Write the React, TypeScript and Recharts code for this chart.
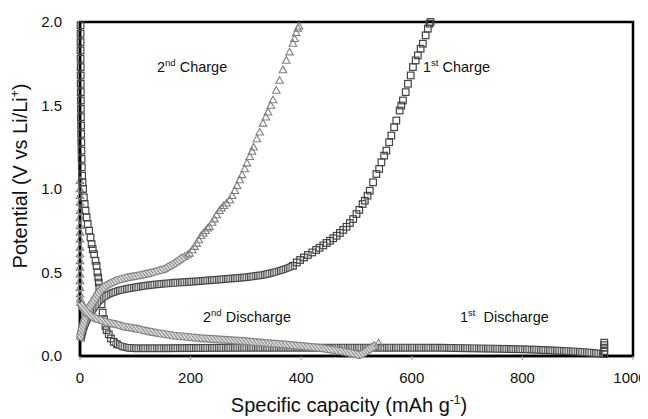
import React from 'react';
import { ScatterChart, Scatter, XAxis, YAxis, ReferenceArea } from 'recharts';

type P = [number, number];

const xTicks = [0, 200, 400, 600, 800, 1000];
const yTicks = [0, 0.5, 1.0, 1.5, 2.0];

// 1st discharge (squares)
const firstDischargeMarkers: P[] = [
  [1, 1.98], [1, 1.93], [1, 1.88], [1, 1.83], [1.1, 1.78], [1.2, 1.73], [1.2, 1.68], [1.3, 1.63],
  [1.4, 1.58], [1.5, 1.53], [1.6, 1.48], [1.7, 1.43], [1.9, 1.38], [2.1, 1.33], [2.3, 1.28],
  [2.6, 1.23], [2.9, 1.18], [3.3, 1.13], [3.8, 1.08], [4.5, 1.04], [5.5, 1.0], [7, 0.95],
  [8.5, 0.91], [10, 0.87], [12, 0.83], [14, 0.79], [16.5, 0.75], [19, 0.71], [21, 0.67],
  [23, 0.64], [25.5, 0.61], [28, 0.57], [30, 0.54], [31.5, 0.5], [33, 0.47], [34, 0.44],
  [35, 0.41], [37, 0.36], [39, 0.31], [41, 0.26], [43.5, 0.22], [46, 0.18], [48, 0.155],
  [52, 0.13], [56, 0.105], [61, 0.085], [67, 0.07],
];
const firstDischargeBand: P[] = [
  [61, 0.085], [67, 0.07], [75, 0.058], [85, 0.05], [100, 0.046], [150, 0.046], [200, 0.048],
  [300, 0.05], [400, 0.05], [500, 0.05], [600, 0.05], [650, 0.049], [700, 0.047], [750, 0.044],
  [800, 0.04], [850, 0.034], [900, 0.026], [930, 0.018], [946, 0.012],
];
const firstDischargeTail: P[] = [
  [948, 0.012], [948, 0.03], [948, 0.05], [948, 0.065], [948, 0.08],
];

// 1st charge (squares)
const firstChargeBand: P[] = [
  [1, 0.09], [3, 0.12], [5, 0.15], [8, 0.18], [12, 0.21], [17, 0.24], [22, 0.27], [28, 0.3],
  [35, 0.33], [44, 0.355], [55, 0.375], [68, 0.39], [80, 0.4], [100, 0.412], [120, 0.422],
  [140, 0.43], [170, 0.438], [200, 0.445], [258, 0.46], [300, 0.472], [330, 0.485], [350, 0.5],
  [370, 0.52], [385, 0.54],
];
const firstChargeMarkers: P[] = [
  [385, 0.54], [392, 0.56], [398, 0.575], [405, 0.59], [412, 0.605], [420, 0.62], [427, 0.635],
  [433, 0.648], [440, 0.662], [446, 0.677], [452, 0.69], [458, 0.705], [464, 0.72], [470, 0.737],
  [476, 0.755], [482, 0.774], [488, 0.796], [494, 0.82], [500, 0.85], [505, 0.875], [511, 0.91],
  [515, 0.93], [520, 0.96], [524, 0.99], [530, 1.04], [536, 1.09], [541, 1.12], [545, 1.16],
  [550, 1.2], [554, 1.23], [559, 1.28], [563, 1.32], [568, 1.37], [572, 1.41], [578, 1.47],
  [581, 1.5], [584, 1.53], [589, 1.58], [593, 1.63], [598, 1.68], [602, 1.73], [607, 1.77],
  [611, 1.8], [616, 1.84], [620, 1.87], [625, 1.92], [629, 1.96], [632, 1.99], [634, 2.0],
];

// 2nd charge (triangles)
const secondChargeBand: P[] = [
  [0, 0.1], [1, 0.13], [3, 0.16], [6, 0.19], [8, 0.215], [12, 0.25], [17, 0.29], [22, 0.315],
  [26, 0.335], [32, 0.37], [38, 0.395], [44, 0.415], [55, 0.435], [68, 0.455], [85, 0.47],
  [111, 0.485], [130, 0.5], [153, 0.52], [172, 0.555], [189, 0.595],
];
const secondChargeMarkers: P[] = [
  [189, 0.595], [194, 0.605], [198, 0.615], [203, 0.635], [207, 0.655], [211, 0.675], [215, 0.695],
  [219, 0.72], [223, 0.735], [227, 0.75], [231, 0.765], [234, 0.774], [239, 0.8], [243, 0.82],
  [247, 0.845], [252, 0.87], [256, 0.885], [260, 0.9], [265, 0.915], [271, 0.934], [275, 0.96],
  [280, 0.99], [284, 1.02], [289, 1.054], [293, 1.085], [298, 1.12], [302, 1.155], [307, 1.193],
  [311, 1.225], [314, 1.25], [320, 1.3], [325, 1.34], [331, 1.393], [336, 1.43], [340, 1.46],
  [345, 1.5], [349, 1.533], [355, 1.59], [361, 1.65], [367, 1.713], [373, 1.77], [379, 1.82],
  [385, 1.872], [388, 1.9], [391, 1.935], [394, 1.962], [396, 1.975],
];

// 2nd discharge (triangles)
const secondDischargeMarkers: P[] = [
  [0, 1.05], [0, 1.0], [0, 0.96], [0, 0.92], [0, 0.87], [0, 0.83], [0, 0.78], [0, 0.74], [0, 0.7],
  [0, 0.65], [0, 0.61], [0, 0.57], [0, 0.53], [0, 0.49], [0, 0.45], [0, 0.41], [0, 0.37],
  [0.5, 0.34], [1, 0.32],
];
const secondDischargeBand: P[] = [
  [1, 0.32], [5, 0.29], [9, 0.27], [14, 0.255], [20, 0.24], [28, 0.225], [38, 0.215], [50, 0.2],
  [65, 0.19], [80, 0.176], [100, 0.165], [120, 0.15], [141, 0.137], [170, 0.122], [198, 0.113],
  [219, 0.106], [260, 0.097], [300, 0.088], [340, 0.076], [380, 0.066], [400, 0.06], [439, 0.046],
  [470, 0.03], [490, 0.018], [506, 0.006], [514, 0.02], [522, 0.038], [530, 0.055], [537, 0.07],
];
const secondDischargeEnd: P[] = [[540, 0.077]];

const toObj = (a: P[]) => a.map(([x, y]) => ({ x, y }));

const SQ = '#444444';
const TR = '#808080';
const FONT = '"Liberation Sans", Arial, Helvetica, sans-serif';

const Square = (props: any) => {
  const { cx, cy } = props;
  if (cx == null || cy == null) return <g />;
  return <rect x={cx - 3.3} y={cy - 3.3} width={6.6} height={6.6} fill="none" stroke={SQ} strokeWidth={1.2} />;
};
const Triangle = (props: any) => {
  const { cx, cy } = props;
  if (cx == null || cy == null) return <g />;
  return (
    <path
      d={`M${cx},${cy - 3.8}L${cx + 3.8},${cy + 2.8}L${cx - 3.8},${cy + 2.8}Z`}
      fill="none"
      stroke={TR}
      strokeWidth={1.1}
    />
  );
};
const Nothing = () => <g />;

const XTick = (props: any) => {
  const { x, y, payload } = props;
  const last = payload.value === xTicks[xTicks.length - 1];
  return (
    <text x={x + (last ? -3 : 0)} y={y} dy="0.71em" textAnchor="middle" fontSize={15} fill="#111" fontFamily={FONT}>
      {payload.value}
    </text>
  );
};

const band = (key: string, pts: P[], outline: string, hatch: string) => [
  <Scatter
    key={key + 'o'}
    data={toObj(pts)}
    shape={Nothing}
    line={{ stroke: outline, strokeWidth: 8, strokeLinejoin: 'round' }}
    lineType="joint"
    lineJointType="linear"
    isAnimationActive={false}
  />,
  <Scatter
    key={key + 'h'}
    data={toObj(pts)}
    shape={Nothing}
    line={{ stroke: hatch, strokeWidth: 5.6, strokeLinejoin: 'round' }}
    lineType="joint"
    lineJointType="linear"
    isAnimationActive={false}
  />,
];

export default function App() {
  return (
    <div style={{ position: 'relative', width: 640, height: 411 }}>
      <svg width={0} height={0} style={{ position: 'absolute' }}>
        <defs>
          <pattern id="sqHatch" patternUnits="userSpaceOnUse" width={2.3} height={4}>
            <rect width={2.3} height={4} fill="#d8d8d8" />
            <rect width={1.1} height={4} fill="#4a4a4a" />
          </pattern>
          <pattern id="trHatch" patternUnits="userSpaceOnUse" width={2.6} height={4} patternTransform="rotate(-40)">
            <rect width={2.6} height={4} fill="#e4e4e4" />
            <rect width={1.1} height={4} fill="#858585" />
          </pattern>
        </defs>
      </svg>
      <ScatterChart width={640} height={400} margin={{ top: 14, right: 15, left: 22, bottom: 22 }}>
        <XAxis
          type="number"
          dataKey="x"
          domain={[0, 1000]}
          ticks={xTicks}
          interval={0}
          height={30}
          tickSize={4}
          tickMargin={12}
          tickLine={{ stroke: '#999' }}
          axisLine={{ stroke: '#000', strokeWidth: 2.5 }}
          tick={<XTick />}
        />
        <YAxis
          type="number"
          dataKey="y"
          domain={[0, 2]}
          ticks={yTicks}
          interval={0}
          width={50}
          tickSize={0}
          tickMargin={18}
          tickLine={false}
          axisLine={{ stroke: '#000', strokeWidth: 2.5 }}
          tickFormatter={(v: number) => v.toFixed(1)}
          tick={{ fontSize: 15, fill: '#111', fontFamily: FONT }}
        />
        <ReferenceArea x1={0} x2={1000} y1={0} y2={2} fill="none" fillOpacity={0} stroke="#000" strokeWidth={2.5} ifOverflow="visible" />
        <Scatter data={toObj(secondDischargeMarkers)} shape={Triangle} isAnimationActive={false} />
        <Scatter data={toObj(secondChargeMarkers)} shape={Triangle} isAnimationActive={false} />
        <Scatter data={toObj(firstDischargeMarkers)} shape={Square} isAnimationActive={false} />
        <Scatter data={toObj(firstChargeMarkers)} shape={Square} isAnimationActive={false} />
        {band('fd', firstDischargeBand, SQ, 'url(#sqHatch)')}
        {band('fc', firstChargeBand, SQ, 'url(#sqHatch)')}
        {band('sc', secondChargeBand, TR, 'url(#trHatch)')}
        {band('sd', secondDischargeBand, TR, 'url(#trHatch)')}
        <Scatter data={toObj(firstDischargeTail)} shape={Square} isAnimationActive={false} />
        <Scatter data={toObj(secondDischargeEnd)} shape={Triangle} isAnimationActive={false} />
      </ScatterChart>
      <svg
        width={640}
        height={411}
        style={{ position: 'absolute', left: 0, top: 0, overflow: 'visible', pointerEvents: 'none' }}
        fontFamily={FONT}
        fill="#111"
      >
        <text x={149} y={64} fontSize={14.5}>
          2<tspan dy={-6} fontSize={9.5}>nd</tspan>
          <tspan dy={6}> Charge</tspan>
        </text>
        <text x={415} y={64} fontSize={14.5}>
          1<tspan dy={-6} fontSize={9.5}>st</tspan>
          <tspan dy={6}> Charge</tspan>
        </text>
        <text x={195} y={314} fontSize={14.5}>
          2<tspan dy={-6} fontSize={9.5}>nd</tspan>
          <tspan dy={6}> Discharge</tspan>
        </text>
        <text x={452} y={314} fontSize={14.5}>
          1<tspan dy={-6} fontSize={9.5}>st</tspan>
          <tspan dy={6} dx={4}> Discharge</tspan>
        </text>
        <text x={341} y={404} fontSize={20} textAnchor="middle">
          Specific capacity (mAh g<tspan dy={-8} fontSize={12}>-1</tspan>
          <tspan dy={8}>)</tspan>
        </text>
        <text transform="translate(19,168) rotate(-90)" fontSize={20} textAnchor="middle">
          Potential (V vs Li/Li<tspan dy={-8} fontSize={12}>+</tspan>
          <tspan dy={8}>)</tspan>
        </text>
      </svg>
    </div>
  );
}
